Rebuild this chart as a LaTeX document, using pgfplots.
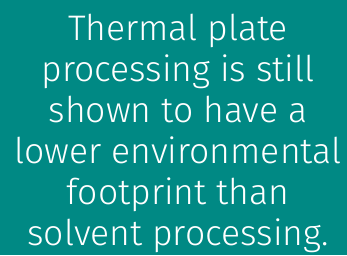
\documentclass[border=0pt]{standalone}
\usepackage{pgfplots}
\pgfplotsset{compat=1.18}
\usepackage{fontspec}
\setmainfont{Fira Sans Light}
\definecolor{tealbg}{HTML}{008984}
\begin{document}
\begin{tikzpicture}
\begin{axis}[
  width=347pt, height=255pt, scale only axis,
  xmin=0, xmax=347, ymin=0, ymax=255,
  axis line style={draw=none}, ticks=none,
  axis background/.style={fill=tealbg},
  clip=false]
\node[anchor=north, inner sep=0pt, align=center, text=white,
  font=\fontsize{35.5}{41}\selectfont] at (axis cs:178,241)
  {Thermal plate\\processing is still\\shown to have a\\lower environmental\\footprint than\\solvent processing.};
\end{axis}
\end{tikzpicture}
\end{document}
